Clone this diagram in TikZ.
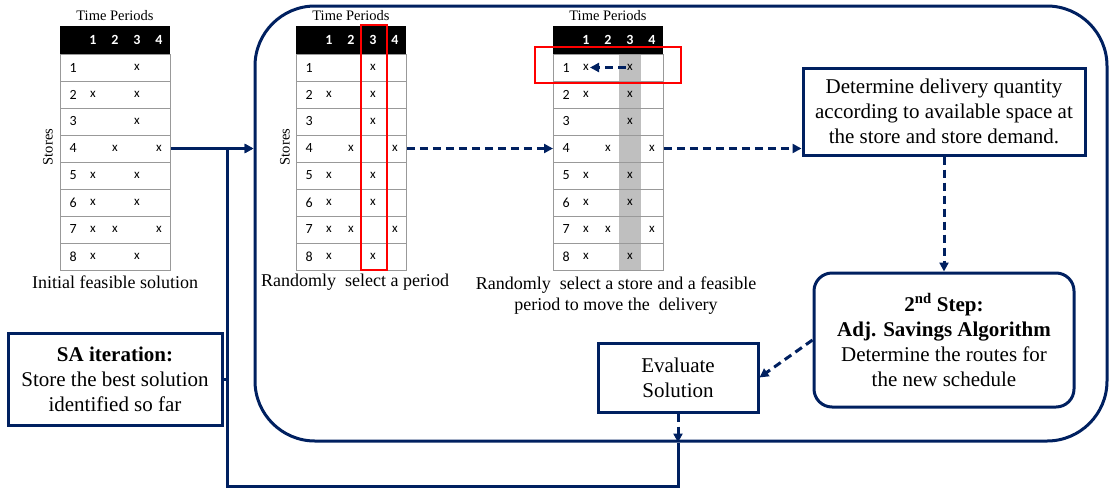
\documentclass[tikz,border=0pt]{standalone}
\usepackage{fontspec}
\setmainfont{Liberation Serif}
\newfontfamily\tabfont{Carlito}
\usetikzlibrary{arrows.meta, positioning}

\definecolor{navy}{RGB}{0,32,96}

\begin{document}
\begin{tikzpicture}[
  x=1pt, y=-1pt,
  box/.style={draw=navy, line width=3pt, align=center, font=\fontsize{21}{25}\selectfont, fill=white},
  roundbox/.style={box, rounded corners=18pt},
  frame/.style={draw=navy, line width=3pt, rounded corners=60pt},
  head/.style={fill=black, minimum width=110pt, minimum height=28pt, inner sep=0pt, anchor=north west},
  tbl/.style={draw=black!40, line width=0.8pt, minimum width=110pt, minimum height=216pt, inner sep=0pt, anchor=north west},
  gridline/.style={draw=black!40, line width=0.8pt},
  headnum/.style={text=white, font=\tabfont\bfseries\fontsize{14}{14}\selectfont},
  rownum/.style={anchor=west, font=\tabfont\fontsize{14}{14}\selectfont},
  xmark/.style={font=\tabfont\fontsize{13}{13}\selectfont, inner sep=1pt},
  axis/.style={font=\fontsize{14.5}{14.5}\selectfont},
  caption/.style={font=\fontsize{18}{21}\selectfont, align=center},
  link/.style={draw=navy, line width=3pt},
  arrow/.style={link, -{Triangle[length=9pt, width=9pt]}},
  dasharrow/.style={arrow, dash pattern=on 8pt off 5pt},
  pick/.style={draw=red, line width=2.5pt}
]
\useasboundingbox (0,0) rectangle (1109,488);

\node[frame, minimum width=852pt, minimum height=435pt] (loop) at (681,223.5) {};

\fill[black!25] (619,54) rectangle (641,270);

\foreach \t/\x in {a/60, b/296, c/553} {
  \node[head] (\t-head) at (\x,26) {};
  \node[tbl] (\t-body) at (\x,54) {};
  \foreach \r in {1,...,7}
    \draw[gridline] (\x,54+27*\r) -- ++(110,0);
  \foreach \c in {1,...,4}
    \node[headnum] (\t-h\c) at (\x+22*\c+11,40) {\c};
  \foreach \r in {1,...,8}
    \node[rownum] (\t-n\r) at (\x+6,40.5+27*\r) {\r};
  \foreach \r/\c in {1/3, 2/1, 2/3, 3/3, 4/2, 4/4, 5/1, 5/3, 6/1, 6/3, 7/1, 7/2, 7/4, 8/1, 8/3}
    \node[xmark] (\t-\r-\c) at (\x+22*\c+11,40.5+27*\r) {x};
  \node[axis] (\t-time) at (\x+55,16) {Time Periods};
}
\node[xmark] (c-1-1) at (586,67.5) {x};
\node[axis, rotate=90] (a-stores) at (48,147) {Stores};
\node[axis, rotate=90] (b-stores) at (285,147) {Stores};

\node[caption] (a-cap) at (115,282) {Initial feasible solution};
\node[caption] (b-cap) at (355,282) {Randomly~ select a period};
\node[caption] (c-cap) at (616,296) {Randomly~ select a store and a feasible\\period to move the~ delivery};

\draw[pick] (361,25) rectangle (387,270);
\draw[pick] (535,47) rectangle (681,83);

\node[box, minimum width=282pt, minimum height=87pt] (qty) at (944,111.5) {Determine delivery quantity\\according to available space at\\the store and store demand.};
\node[roundbox, minimum width=260pt, minimum height=134pt] (route) at (944,340) {\textbf{2\textsuperscript{nd} Step:}\\\textbf{Adj. Savings Algorithm}\\Determine the routes for\\the new schedule};
\node[box, minimum width=160pt, minimum height=69pt] (eval) at (678,377.5) {Evaluate\\Solution};
\node[box, minimum width=214pt, minimum height=92pt] (best) at (115,379) {\textbf{SA iteration:}\\Store the best solution\\identified so far};

\coordinate (jn) at (227,486);

\draw[dasharrow] (c-1-3) -- (c-1-1);
\draw[arrow] (a-body.east |- a-4-4) -- (loop.west |- a-4-4);
\draw[dasharrow] (b-body.east |- b-4-4) -- (c-body.west |- c-4-4);
\draw[dasharrow] (c-body.east |- c-4-4) -- (qty.west |- c-4-4);
\draw[dasharrow] (qty.south) -- (route.north);
\draw[dasharrow] (route.west) -- (eval.east);
\draw[dasharrow] (eval.south) -- (eval |- loop.south);
\draw[arrow] (eval |- loop.south) -- (eval |- jn) -- (jn) |- (loop.west |- a-4-4);
\draw[link] (best.east) -- (best.east -| jn);
\end{tikzpicture}
\end{document}
